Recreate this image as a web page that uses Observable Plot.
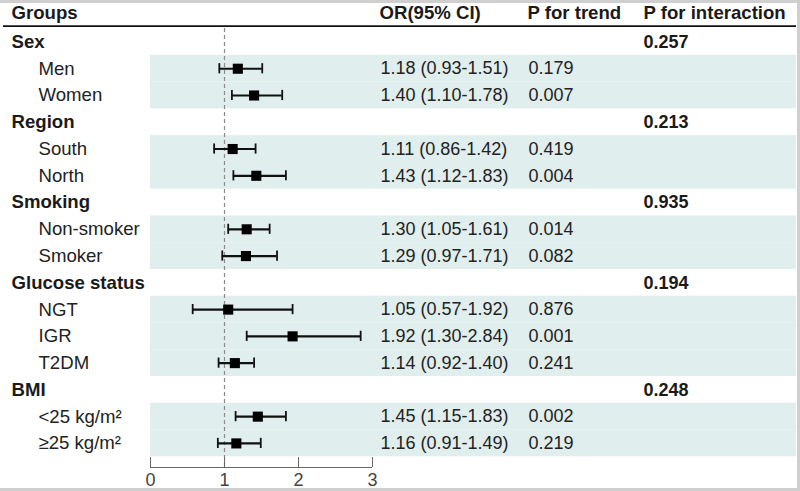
<!DOCTYPE html>
<html>
<head>
<meta charset="utf-8">
<script src="https://cdn.jsdelivr.net/npm/d3@7"></script>
<script src="https://cdn.jsdelivr.net/npm/@observablehq/plot@0.6"></script>
<style>
  body { margin: 0; background: #fff; }
  #wrap { position: relative; width: 800px; height: 491px; overflow: hidden; }
  #border { position: absolute; left: 0; top: 0; width: 800px; height: 491px; box-sizing: border-box;
            border-top: 3px solid #cfcfcf; border-right: 3px solid #cfcfcf; border-bottom: 3px solid #cfcfcf; pointer-events: none; }
</style>
</head>
<body>
<div id="wrap"><div id="chart"></div><div id="border"></div></div>
<script>
// ---- data ----
const groupNames = ["Sex", "Region", "Smoking", "Glucose status", "BMI"];
const pInteraction = ["0.257", "0.213", "0.935", "0.194", "0.248"];
const subLabels = ["Men", "Women", "South", "North", "Non-smoker", "Smoker", "NGT", "IGR", "T2DM", "<25 kg/m²", "≥25 kg/m²"];
const subGroup  = ["Sex", "Sex", "Region", "Region", "Smoking", "Smoking", "Glucose status", "Glucose status", "Glucose status", "BMI", "BMI"];
const orValue   = [1.18, 1.40, 1.11, 1.43, 1.30, 1.29, 1.05, 1.92, 1.14, 1.45, 1.16];
const ciLower   = [0.93, 1.10, 0.86, 1.12, 1.05, 0.97, 0.57, 1.30, 0.92, 1.15, 0.91];
const ciUpper   = [1.51, 1.78, 1.42, 1.83, 1.61, 1.71, 1.92, 2.84, 1.40, 1.83, 1.49];
const pTrend    = ["0.179", "0.007", "0.419", "0.004", "0.014", "0.082", "0.876", "0.001", "0.241", "0.002", "0.219"];
const headers   = ["Groups", "OR(95% CI)", "P for trend", "P for interaction"];
const xTicks    = [0, 1, 2, 3];
const refValue  = 1;

// ---- build table rows (index = row position) ----
const groupRows = [], subRows = [];
let idx = 1;
groupNames.forEach((g, gi) => {
  groupRows.push({i: idx++, label: g, pInt: pInteraction[gi]});
  subLabels.forEach((s, si) => {
    if (subGroup[si] === g) {
      subRows.push({
        i: idx++, label: s, or: orValue[si], lo: ciLower[si], hi: ciUpper[si],
        orText: `${orValue[si].toFixed(2)} (${ciLower[si].toFixed(2)}-${ciUpper[si].toFixed(2)})`,
        pTrend: pTrend[si]
      });
    }
  });
});
const nRows = idx - 1;
const yMax = nRows + 0.9;
const colDx = [8, 376, 524, 640];
const headerRows = headers.map((h, k) => ({h, dx: colDx[k]}));

const ink = "#1a1a1a";
const font = "'Liberation Sans', Arial, Helvetica, sans-serif";
const labelSize = 18.6, numSize = 18;

const chart = Plot.plot({
  width: 800, height: 491,
  marginLeft: 3, marginRight: 4, marginTop: 0, marginBottom: 24,
  x: {domain: [xTicks[0], xTicks[xTicks.length - 1]], range: [150, 372], axis: null},
  y: {domain: [0, yMax], range: [14.7, 467], axis: null},
  style: {fontFamily: font, fontSize: "18px", color: ink, background: "white"},
  marks: [
    // shaded bands for subgroup rows
    Plot.rect(subRows, {y1: d => d.i - 0.5, y2: d => d.i + 0.5, insetLeft: 147, fill: "#e1eeee"}),
    // header underline
    Plot.ruleY([0.5], {stroke: "#111", strokeWidth: 1.6, dy: -2.5}),
    // reference dashed line
    Plot.ruleX([refValue], {y1: 0.5, y2: yMax, stroke: "#8a8a8a", strokeWidth: 1.2, strokeDasharray: "4,3"}),
    // CI whiskers
    Plot.ruleY(subRows, {y: "i", x1: "lo", x2: "hi", stroke: "#111", strokeWidth: 2.2}),
    Plot.ruleX(subRows, {x: "lo", y1: d => d.i - 0.19, y2: d => d.i + 0.19, stroke: "#111", strokeWidth: 1.8}),
    Plot.ruleX(subRows, {x: "hi", y1: d => d.i - 0.19, y2: d => d.i + 0.19, stroke: "#111", strokeWidth: 1.8}),
    // point estimates
    Plot.dot(subRows, {x: "or", y: "i", symbol: "square", r: 5.7, fill: "#000", stroke: null}),
    // header texts
    ...headerRows.map(hr => Plot.text([hr], {y: () => 0, text: "h", frameAnchor: "left", dx: hr.dx, textAnchor: "start", fontWeight: "bold", fontSize: labelSize, fill: ink, dy: -2})),
    // group labels
    Plot.text(groupRows, {y: "i", text: "label", frameAnchor: "left", dx: 8, textAnchor: "start", fontWeight: "bold", fontSize: labelSize, fill: ink}),
    Plot.text(groupRows, {y: "i", text: "pInt", frameAnchor: "left", dx: 640, textAnchor: "start", fontWeight: "bold", fontSize: numSize, fill: ink}),
    // subgroup labels and values
    Plot.text(subRows, {y: "i", text: "label", frameAnchor: "left", dx: 35, textAnchor: "start", fontSize: labelSize, fill: "#222"}),
    Plot.text(subRows, {y: "i", text: "orText", frameAnchor: "left", dx: 377, textAnchor: "start", fontSize: numSize, fill: "#222"}),
    Plot.text(subRows, {y: "i", text: "pTrend", frameAnchor: "left", dx: 525, textAnchor: "start", fontSize: numSize, fill: "#222"}),
    // x axis
    Plot.ruleY([yMax], {x1: xTicks[0], x2: xTicks[xTicks.length - 1], stroke: "#666", strokeWidth: 1.2}),
    Plot.axisX({ticks: xTicks, tickSize: -10, tickPadding: 16, stroke: "#666", fill: "#444", fontSize: 18, tickFormat: d3.format("d")})
  ]
});
document.getElementById("chart").appendChild(chart);
</script>
</body>
</html>
